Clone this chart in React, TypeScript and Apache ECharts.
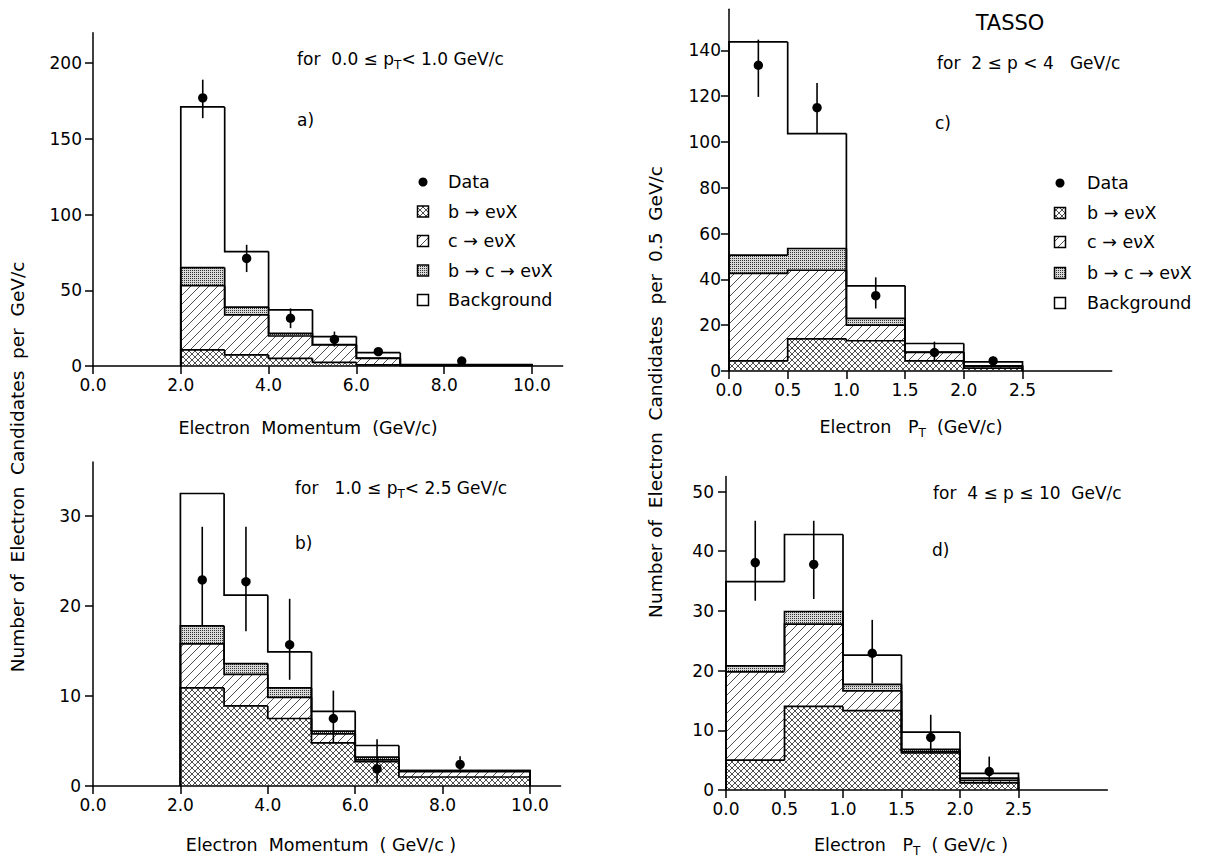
import React, { useEffect, useRef } from "react";
import * as echarts from "echarts";

const FONT = "DejaVu Sans";

// ---------- bins & ticks ----------
const momentumEdges = [2, 3, 4, 5, 6, 7, 10];
const ptEdges = [0, 0.5, 1.0, 1.5, 2.0, 2.5];
const momentumTicks = [0, 2, 4, 6, 8, 10];
const ptTicks = [0, 0.5, 1, 1.5, 2, 2.5];
const aYTicks = [0, 50, 100, 150, 200];
const bYTicks = [0, 10, 20, 30];
const cYTicks = [0, 20, 40, 60, 80, 100, 120, 140];
const dYTicks = [0, 10, 20, 30, 40, 50];

const componentNames = ["b → eνX", "c → eνX", "b → c → eνX", "Background"];

// ---------- panel a : 0.0 <= pT < 1.0 ----------
const aBtoE = [10.6, 7.3, 5.0, 2.4, 0.7, 0.3];
const aCtoE = [42.4, 26.4, 14.8, 11.5, 4.3, 0.3];
const aBtoCtoE = [12.0, 5.1, 1.8, 0.3, 0.2, 0.0];
const aBackground = [106.0, 36.7, 15.4, 5.2, 3.6, 0.3];
const aDataX = [2.5, 3.5, 4.5, 5.5, 6.5, 8.4];
const aDataY = [177, 71, 31.5, 17.6, 9.5, 3.3];
const aDataLo = [163.6, 62, 25, 12.8, 7.0, 2.0];
const aDataHi = [189, 80, 38, 22.7, 12.0, 4.6];

// ---------- panel b : 1.0 <= pT < 2.5 ----------
const bBtoE = [10.9, 8.9, 7.5, 4.8, 2.7, 1.0];
const bCtoE = [4.9, 3.5, 2.35, 1.0, 0.2, 0.6];
const bBtoCtoE = [2.0, 1.2, 1.05, 0.3, 0.3, 0.1];
const bBackground = [14.7, 7.6, 4.0, 2.2, 1.3, 0.0];
const bDataX = [2.5, 3.5, 4.5, 5.5, 6.5, 8.4];
const bDataY = [22.9, 22.7, 15.7, 7.5, 1.9, 2.4];
const bDataLo = [17.8, 17.2, 11.8, 4.8, 0.3, 1.6];
const bDataHi = [28.8, 28.8, 20.8, 10.6, 5.2, 3.3];

// ---------- panel c : 2 <= p < 4 ----------
const cBtoE = [4.4, 14.0, 13.2, 4.4, 1.2];
const cCtoE = [38.2, 30.0, 6.8, 3.7, 0.7];
const cBtoCtoE = [8.0, 9.5, 3.0, 0.2, 0.4];
const cBackground = [93.1, 50.2, 14.2, 3.7, 1.7];
const cDataX = [0.25, 0.75, 1.25, 1.75, 2.25];
const cDataY = [133.5, 115, 32.9, 8.1, 4.4];
const cDataLo = [119.7, 103.7, 27.3, 4.8, 2.5];
const cDataHi = [144.7, 125.8, 40.9, 12.8, 6.3];

// ---------- panel d : 4 <= p <= 10 ----------
const dBtoE = [5.0, 14.0, 13.3, 6.2, 1.2];
const dCtoE = [14.8, 13.8, 3.3, 0.2, 0.4];
const dBtoCtoE = [1.0, 2.1, 1.1, 0.4, 0.4];
const dBackground = [14.1, 12.9, 4.9, 2.9, 0.8];
const dDataX = [0.25, 0.75, 1.25, 1.75, 2.25];
const dDataY = [38.1, 37.8, 22.9, 8.8, 3.1];
const dDataLo = [31.7, 32, 17.9, 6.1, 1.1];
const dDataHi = [45.1, 45.1, 28.5, 12.6, 5.6];

function makePattern(kind: string): any {
  const size = kind === "dots" ? 2 : kind === "cross" ? 6 : 9;
  const cv = document.createElement("canvas");
  cv.width = size;
  cv.height = size;
  const ctx = cv.getContext("2d")!;
  ctx.strokeStyle = "#222";
  ctx.fillStyle = "#333";
  ctx.lineWidth = 0.8;
  const slash = () => {
    ctx.moveTo(-1, size + 1);
    ctx.lineTo(size + 1, -1);
    ctx.moveTo(-1, 1);
    ctx.lineTo(1, -1);
    ctx.moveTo(size - 1, size + 1);
    ctx.lineTo(size + 1, size - 1);
  };
  const back = () => {
    ctx.moveTo(-1, -1);
    ctx.lineTo(size + 1, size + 1);
    ctx.moveTo(size - 1, -1);
    ctx.lineTo(size + 1, 1);
    ctx.moveTo(-1, size - 1);
    ctx.lineTo(1, size + 1);
  };
  if (kind === "diag") {
    ctx.beginPath();
    slash();
    ctx.stroke();
  } else if (kind === "cross") {
    ctx.beginPath();
    slash();
    back();
    ctx.stroke();
  } else if (kind === "dots") {
    ctx.fillStyle = "#d8d8d8";
    ctx.fillRect(0, 0, 2, 2);
    ctx.fillStyle = "#333";
    ctx.fillRect(0, 0, 1, 1);
  }
  return { image: cv, repeat: "repeat", imageWidth: size, imageHeight: size };
}

export default function App() {
  const ref = useRef<HTMLDivElement>(null);

  useEffect(() => {
    const chart = echarts.init(ref.current!, null, { renderer: "svg" });
    const fills = [makePattern("cross"), makePattern("diag"), makePattern("dots"), "none"];

    const panels = [
      {
        edges: momentumEdges,
        comps: [aBtoE, aCtoE, aBtoCtoE, aBackground],
        dx: aDataX, dy: aDataY, lo: aDataLo, hi: aDataHi,
        xMax: 10.7, yMax: 220, xTicks: momentumTicks, yTicks: aYTicks,
        grid: { left: 93, top: 32.7, width: 469.7, height: 333.3 },
        yMargin: 11,
      },
      {
        edges: momentumEdges,
        comps: [bBtoE, bCtoE, bBtoCtoE, bBackground],
        dx: bDataX, dy: bDataY, lo: bDataLo, hi: bDataHi,
        xMax: 10.7, yMax: 36, xTicks: momentumTicks, yTicks: bYTicks,
        grid: { left: 93, top: 462, width: 467.6, height: 324 },
        yMargin: 12,
      },
      {
        edges: ptEdges,
        comps: [cBtoE, cCtoE, cBtoCtoE, cBackground],
        dx: cDataX, dy: cDataY, lo: cDataLo, hi: cDataHi,
        xMax: 3.26, yMax: 158, xTicks: ptTicks, yTicks: cYTicks,
        grid: { left: 729, top: 9.2, width: 382.7, height: 361.8 },
        yMargin: 8,
      },
      {
        edges: ptEdges,
        comps: [dBtoE, dCtoE, dBtoCtoE, dBackground],
        dx: dDataX, dy: dDataY, lo: dDataLo, hi: dDataHi,
        xMax: 3.26, yMax: 52.5, xTicks: ptTicks, yTicks: dYTicks,
        grid: { left: 726, top: 476.6, width: 381.4, height: 313.4 },
        yMargin: 12,
      },
    ];

    const axisLine = { show: true, onZero: false, lineStyle: { color: "#000", width: 1.5 } };
    const grids: any[] = [];
    const xAxes: any[] = [];
    const yAxes: any[] = [];
    const series: any[] = [];

    panels.forEach((p, i) => {
      grids.push({ ...p.grid, containLabel: false });
      xAxes.push({
        type: "value", gridIndex: i, min: 0, max: p.xMax,
        axisLine,
        axisTick: { show: true, inside: false, length: 8, customValues: p.xTicks, lineStyle: { color: "#000", width: 1.5 } },
        axisLabel: {
          customValues: p.xTicks, color: "#000", fontSize: 17, fontFamily: FONT, margin: 10,
          formatter: (v: number) => v.toFixed(1),
        },
        splitLine: { show: false },
      });
      yAxes.push({
        type: "value", gridIndex: i, min: 0, max: p.yMax,
        axisLine,
        axisTick: { show: true, inside: false, length: 8, customValues: p.yTicks, lineStyle: { color: "#000", width: 1.5 } },
        axisLabel: {
          customValues: p.yTicks, color: "#000", fontSize: 17, fontFamily: FONT, margin: p.yMargin,
          formatter: (v: number) => String(v),
        },
        splitLine: { show: false },
      });

      const n = p.edges.length - 1;
      let acc = new Array(n).fill(0);
      const levels: number[][] = [];
      p.comps.forEach((comp, k) => {
        const bottoms = acc.slice();
        acc = acc.map((v: number, j: number) => v + comp[j]);
        const tops = acc.slice();
        levels.push(tops);
        const fill = fills[k];
        series.push({
          type: "custom", name: componentNames[k], coordinateSystem: "cartesian2d",
          xAxisIndex: i, yAxisIndex: i, silent: true, z: 1,
          data: tops.map((t: number, j: number) => [p.edges[j], p.edges[j + 1], bottoms[j], t]),
          encode: { x: [0, 1], y: [2, 3] },
          renderItem: (_params: any, api: any) => {
            const p0 = api.coord([api.value(0), api.value(3)]);
            const p1 = api.coord([api.value(1), api.value(2)]);
            return {
              type: "rect",
              shape: { x: p0[0], y: p0[1], width: p1[0] - p0[0], height: p1[1] - p0[1] },
              style: { fill, stroke: "none" },
            };
          },
        });
      });

      const outline: number[][] = [];
      levels.forEach((tops) => {
        tops.forEach((t, j) => {
          const prev = j === 0 ? 0 : tops[j - 1];
          const end = j === n - 1 ? 0 : t;
          outline.push([p.edges[j], p.edges[j + 1], t, prev, end]);
        });
      });
      series.push({
        type: "custom", name: "outline", coordinateSystem: "cartesian2d",
        xAxisIndex: i, yAxisIndex: i, silent: true, z: 2,
        data: outline,
        encode: { x: [0, 1], y: [2, 3, 4] },
        renderItem: (_params: any, api: any) => {
          const x0 = api.value(0), x1 = api.value(1), t = api.value(2), pr = api.value(3), en = api.value(4);
          const pts = [api.coord([x0, pr]), api.coord([x0, t]), api.coord([x1, t]), api.coord([x1, en])];
          return { type: "polyline", shape: { points: pts }, style: { fill: "none", stroke: "#000", lineWidth: 1.7 } };
        },
      });

      series.push({
        type: "custom", name: "Data", coordinateSystem: "cartesian2d",
        xAxisIndex: i, yAxisIndex: i, silent: true, z: 3,
        data: p.dx.map((x, j) => [x, p.dy[j], p.lo[j], p.hi[j]]),
        encode: { x: 0, y: [1, 2, 3] },
        renderItem: (_params: any, api: any) => {
          const x = api.value(0);
          const c = api.coord([x, api.value(1)]);
          const lo = api.coord([x, api.value(2)]);
          const hi = api.coord([x, api.value(3)]);
          return {
            type: "group",
            children: [
              { type: "line", shape: { x1: lo[0], y1: lo[1], x2: hi[0], y2: hi[1] }, style: { stroke: "#000", lineWidth: 1.6, fill: "none" } },
              { type: "circle", shape: { cx: c[0], cy: c[1], r: 4.7 }, style: { fill: "#000", stroke: "none" } },
            ],
          };
        },
      });
    });

    const txt = (x: number, y: number, text: string, size = 17, align = "left", rotation = 0) => ({
      type: "text", x, y, rotation, silent: true,
      style: { text, fontFamily: FONT, fontSize: size, fill: "#000", align, verticalAlign: "middle" },
    });
    const subTxt = (x: number, y: number, before: string, sub: string, after: string, size = 17, align = "left") => ({
      type: "text", x, y, silent: true,
      style: {
        text: `{n|${before}}{s|${sub}}{n|${after}}`,
        align, verticalAlign: "middle",
        rich: {
          n: { fontFamily: FONT, fontSize: size, fill: "#000", lineHeight: 24, verticalAlign: "middle" },
          s: { fontFamily: FONT, fontSize: Math.round(size * 0.68), fill: "#000", lineHeight: 12, verticalAlign: "bottom" },
        },
      },
    });

    const legend = (sx: number, tx: number, rows: number[]) => {
      const els: any[] = [];
      els.push({ type: "circle", shape: { cx: sx, cy: rows[0], r: 4.5 }, style: { fill: "#000" }, silent: true });
      els.push(txt(tx, rows[0], "Data", 17.5));
      componentNames.forEach((nm, k) => {
        const y = rows[k + 1];
        els.push({
          type: "rect", shape: { x: sx - 5.5, y: y - 5.5, width: 11, height: 11 },
          style: { fill: k === 3 ? "#fff" : fills[k], stroke: "#000", lineWidth: 1.5 }, silent: true,
        });
        els.push(txt(tx, y, nm, 17.5));
      });
      return els;
    };

    const graphic: any[] = [
      subTxt(297, 59, "for  0.0 ≤ p", "T", "< 1.0 GeV/c"),
      txt(297, 120, "a)", 17),
      subTxt(295, 488, "for   1.0 ≤ p", "T", "< 2.5 GeV/c"),
      txt(295, 543, "b)", 17),
      txt(1010, 23, "TASSO", 21, "center"),
      txt(937, 63, "for  2 ≤ p < 4   GeV/c"),
      txt(935, 123, "c)", 17),
      txt(933, 493, "for  4 ≤ p ≤ 10  GeV/c"),
      txt(932, 550, "d)", 17),
      txt(308, 428, "Electron  Momentum  (GeV/c)", 17.5, "center"),
      txt(321, 845, "Electron  Momentum  ( GeV/c )", 17.5, "center"),
      subTxt(911, 427, "Electron   P", "T", "  (GeV/c)", 17.5, "center"),
      subTxt(911, 845, "Electron   P", "T", "  ( GeV/c )", 17.5, "center"),
      txt(17, 467, "Number of  Electron  Candidates  per  GeV/c", 18.5, "center", Math.PI / 2),
      txt(655, 392, "Number of  Electron  Candidates  per  0.5  GeV/c", 18.5, "center", Math.PI / 2),
      ...legend(423, 448, [182, 211.5, 241, 270.5, 300]),
      ...legend(1060, 1087, [183, 213, 242, 273, 303]),
    ];

    chart.setOption({
      animation: false,
      backgroundColor: "#fff",
      grid: grids,
      xAxis: xAxes,
      yAxis: yAxes,
      series,
      graphic,
    });

    return () => chart.dispose();
  }, []);

  return (
    <div
      ref={ref}
      style={{ position: "absolute", left: 0, top: 0, width: 1217, height: 866, background: "#fff" }}
    />
  );
}
